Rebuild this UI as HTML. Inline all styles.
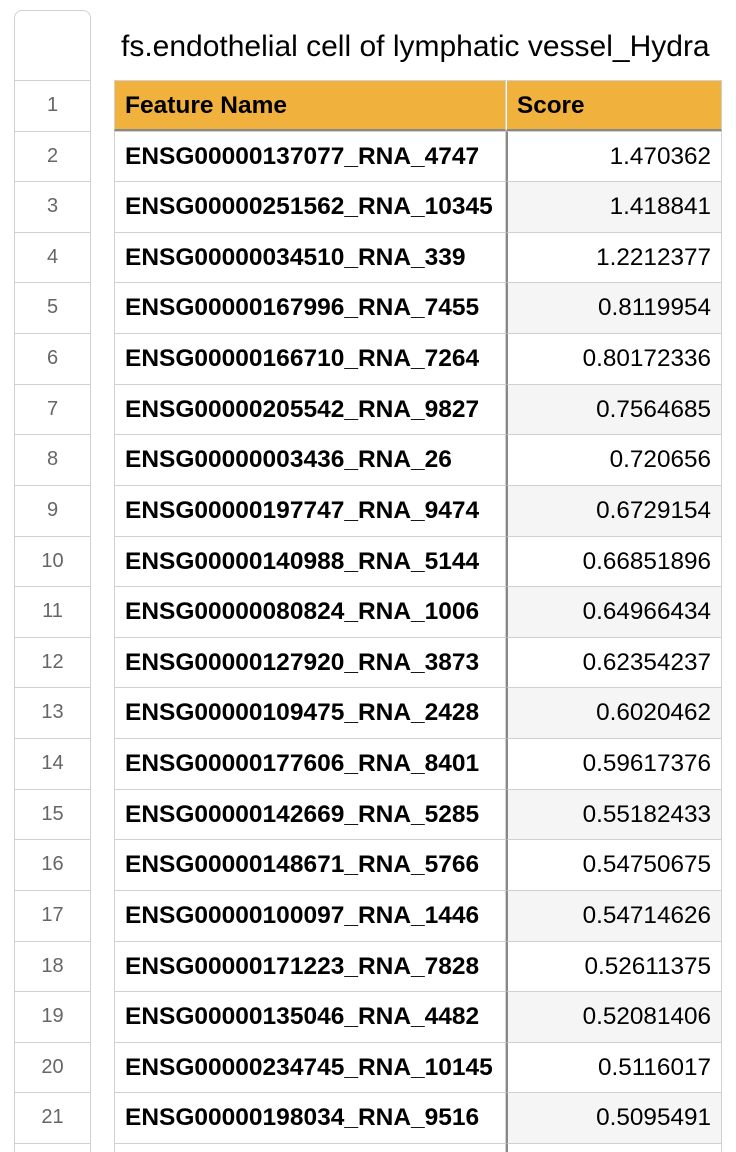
<!DOCTYPE html>
<html><head><meta charset="utf-8"><style>
html,body{margin:0;width:736px;height:1152px;overflow:hidden}
body{background:#fff;font-family:"Liberation Sans",Arial,sans-serif;position:relative}
.abs{position:absolute;box-sizing:border-box;white-space:nowrap;overflow:hidden}
#rn{left:14px;top:10px;width:77px;height:1142px;border:1px solid #d0d0d0;border-bottom:none;border-radius:8px 8px 0 0}
.num{left:14px;width:77px;text-align:center;color:#666;font-size:20px;border-top:1px solid #d0d0d0}
.name{left:114px;width:392px;border:1px solid #d0d0d0;border-bottom:none;font-weight:bold;font-size:24.5px;padding-left:10px;color:#000}
.score{left:506px;width:216px;border-top:1px solid #d0d0d0;border-right:1px solid #d0d0d0;border-left:2px solid #888;font-size:24.3px;text-align:right;padding-right:10px;color:#000}
.alt{background:#f5f5f5}
.hdr{background:#f0b13d;border-color:#d0d0d0;border-bottom:2px solid #888}
</style></head><body>
<div class="abs" id="rn"></div>
<div class="abs" style="left:121px;top:22px;width:615px;font-size:30px;line-height:50px;color:#000">fs.endothelial cell of lymphatic vessel_Hydra</div>
<div id="grid"></div>
<script>
const names=["ENSG00000137077_RNA_4747","ENSG00000251562_RNA_10345","ENSG00000034510_RNA_339","ENSG00000167996_RNA_7455","ENSG00000166710_RNA_7264","ENSG00000205542_RNA_9827","ENSG00000003436_RNA_26","ENSG00000197747_RNA_9474","ENSG00000140988_RNA_5144","ENSG00000080824_RNA_1006","ENSG00000127920_RNA_3873","ENSG00000109475_RNA_2428","ENSG00000177606_RNA_8401","ENSG00000142669_RNA_5285","ENSG00000148671_RNA_5766","ENSG00000100097_RNA_1446","ENSG00000171223_RNA_7828","ENSG00000135046_RNA_4482","ENSG00000234745_RNA_10145","ENSG00000198034_RNA_9516"];
const scores=["1.470362","1.418841","1.2212377","0.8119954","0.80172336","0.7564685","0.720656","0.6729154","0.66851896","0.64966434","0.62354237","0.6020462","0.59617376","0.55182433","0.54750675","0.54714626","0.52611375","0.52081406","0.5116017","0.5095491"];
const g=document.getElementById('grid');
const H=50.62,T0=80;
function mk(cls,top,h,txt){const d=document.createElement('div');d.className='abs '+cls;d.style.top=top+'px';d.style.height=h+'px';d.style.lineHeight=(h-1)+'px';d.textContent=txt;g.appendChild(d);return d;}
for(let i=0;i<22;i++){
  const top=T0+i*H;
  const h=i<21?H:(1152-top);
  const n=mk('num',top,h,i<21?String(i+1):'');
  
  
  let a,b;
  if(i===0){
    a=mk('name hdr',top,H,'Feature Name');b=mk('score hdr',top,H,'Score');
    b.style.textAlign='left';b.style.paddingLeft='10px';b.style.fontWeight='bold';b.style.borderLeft='1px solid #fff';
  }else if(i<21){
    a=mk('name',top,H,names[i-1]);b=mk('score'+(i%2===0?' alt':''),top,H,scores[i-1]);
  }else{
    a=mk('name',top,h,'');b=mk('score',top,h,'');
  }
  
  
  
  
}
</script>
</body></html>
